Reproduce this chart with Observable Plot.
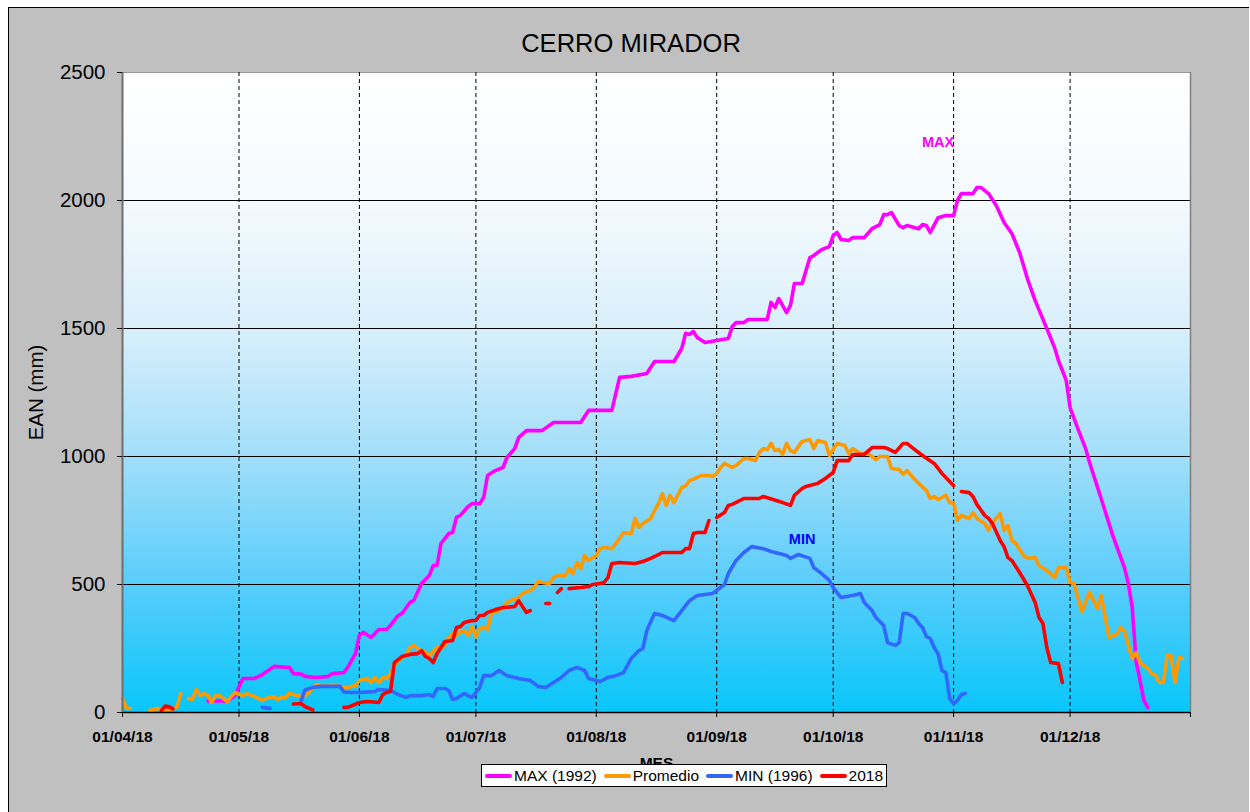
<!DOCTYPE html>
<html>
<head>
<meta charset="utf-8">
<script src="https://cdn.jsdelivr.net/npm/d3@7"></script>
<script src="https://cdn.jsdelivr.net/npm/@observablehq/plot@0.6"></script>
<style>
  html, body { margin: 0; padding: 0; }
  body { width: 1250px; height: 812px; overflow: hidden; position: relative; background: #ffffff;
         font-family: "Liberation Sans", Arial, sans-serif; }
  #bg { position: absolute; left: 8px; top: 7px; width: 1240px; height: 820px; background: #c0c0c0;
        border-top: 1px solid #000; border-left: 1px solid #000; }
  #title { position: absolute; left: 431px; top: 31px; width: 400px; text-align: center;
           font-size: 25.5px; line-height: 1; color: #000; }
  #chart { position: absolute; left: 0; top: 0; }
  #legend { position: absolute; left: 481px; top: 764px; width: 404px; height: 21px; background: #fff;
            border: 1px solid #000; display: flex; align-items: center; font-size: 15.5px; color: #000;
            white-space: nowrap; }
  .item { display: flex; align-items: center; margin-left: 3px; margin-right: 4px; }
  .sw { display: inline-block; width: 27px; height: 4px; border-radius: 2px; margin-right: 2px; }
</style>
</head>
<body>
<div id="bg"></div>
<div id="title"></div>
<div id="chart"></div>
<div id="legend"></div>
<script>
// ---------------- data ----------------
const chartTitle = "CERRO MIRADOR";
const yLabel = "EAN (mm)";
const xLabel = "MES";
const seriesNames = ["MAX (1992)", "Promedio", "MIN (1996)", "2018"];
const seriesColors = ["#ff00ff", "#ff9900", "#3366ff", "#ff0000"];
const yTicks = [0, 500, 1000, 1500, 2000, 2500];
const xTickDates = ["2018-04-01", "2018-05-01", "2018-06-01", "2018-07-01", "2018-08-01",
                    "2018-09-01", "2018-10-01", "2018-11-01", "2018-12-01"];
const xDomain = ["2018-04-01", "2019-01-01"];

// [MM-DD of 2018, EAN mm]; null = no data (line break)
const maxSeries = [["04-23",45],["04-28",45],["04-30",66],["05-02",133],["05-05",133],["05-07",148],["05-10",180],["05-14",176],["05-15",152],["05-17",150],["05-18",141],["05-21",137],["05-24",141],["05-25",152],["05-28",156],["05-29",176],["05-31",230],["06-01",301],["06-02",313],["06-04",293],["06-06",324],["06-08",324],["06-09",340],["06-11",379],["06-12",387],["06-14",430],["06-15",437],["06-17",504],["06-19",535],["06-20",574],["06-21",574],["06-22",660],["06-24",699],["06-25",703],["06-26",762],["06-27",770],["06-29",805],["06-30",816],["07-02",816],["07-03",840],["07-04",926],["07-06",945],["07-08",957],["07-09",996],["07-11",1031],["07-12",1074],["07-14",1101],["07-18",1101],["07-21",1133],["07-28",1133],["07-30",1180],["08-05",1180],["08-07",1309],["08-10",1313],["08-14",1324],["08-16",1371],["08-21",1371],["08-23",1422],["08-24",1481],["08-25",1477],["08-26",1488],["08-27",1465],["08-29",1445],["09-01",1453],["09-04",1461],["09-05",1508],["09-06",1523],["09-08",1523],["09-09",1535],["09-14",1535],["09-15",1602],["09-16",1582],["09-17",1617],["09-19",1562],["09-20",1590],["09-21",1676],["09-23",1676],["09-25",1777],["09-26",1785],["09-28",1808],["09-30",1820],["10-01",1863],["10-02",1875],["10-03",1848],["10-05",1844],["10-06",1855],["10-09",1855],["10-11",1890],["10-13",1906],["10-14",1945],["10-15",1945],["10-16",1953],["10-18",1902],["10-19",1894],["10-20",1902],["10-23",1890],["10-24",1906],["10-25",1902],["10-26",1875],["10-28",1933],["10-30",1941],["11-01",1941],["11-02",2000],["11-03",2027],["11-06",2027],["11-07",2051],["11-08",2051],["11-10",2027],["11-12",1980],["11-14",1914],["11-16",1871],["11-18",1797],["11-20",1695],["11-22",1609],["11-25",1500],["11-27",1426],["11-28",1375],["11-30",1297],["12-01",1191],["12-03",1109],["12-05",1031],["12-06",977],["12-09",836],["12-12",691],["12-15",566],["12-16",504],["12-17",410],["12-18",200],["12-19",125],["12-20",47],["12-21",20]];

const avgSeries = [["04-01",55],["04-02",16],["04-03",16],["04-05",null],["04-08",8],["04-10",16],["04-12",12],["04-14",14],["04-15",20],["04-16",74],["04-17",null],["04-18",55],["04-19",51],["04-20",90],["04-21",66],["04-22",74],["04-23",66],["04-24",40],["04-25",66],["04-26",66],["04-28",43],["04-29",62],["04-30",78],["05-02",66],["05-03",74],["05-05",62],["05-07",47],["05-08",55],["05-10",62],["05-11",51],["05-12",59],["05-13",59],["05-14",74],["05-15",70],["05-17",62],["05-18",66],["05-19",78],["05-21",109],["05-23",105],["05-25",109],["05-26",105],["05-28",98],["05-29",98],["05-31",105],["06-01",125],["06-03",133],["06-04",117],["06-05",137],["06-06",117],["06-07",137],["06-08",133],["06-09",152],["06-10",184],["06-11",200],["06-12",215],["06-13",223],["06-14",254],["06-15",262],["06-16",250],["06-17",242],["06-18",234],["06-19",223],["06-21",254],["06-22",250],["06-23",262],["06-24",293],["06-25",309],["06-26",301],["06-27",316],["06-28",320],["06-29",301],["06-30",335],["07-01",295],["07-02",328],["07-03",332],["07-04",325],["07-05",387],["07-07",398],["07-08",410],["07-09",430],["07-10",437],["07-12",449],["07-13",465],["07-15",477],["07-16",488],["07-17",512],["07-18",508],["07-20",504],["07-21",527],["07-22",535],["07-24",535],["07-25",562],["07-26",543],["07-27",586],["07-28",562],["07-29",613],["07-30",594],["08-01",613],["08-02",640],["08-03",645],["08-05",640],["08-06",660],["08-07",680],["08-08",703],["08-10",699],["08-11",758],["08-12",723],["08-13",738],["08-15",758],["08-16",789],["08-17",816],["08-18",855],["08-19",809],["08-20",848],["08-21",820],["08-23",879],["08-24",885],["08-25",906],["08-27",918],["08-28",926],["08-30",926],["08-31",922],["09-01",933],["09-02",957],["09-03",973],["09-05",957],["09-06",965],["09-08",992],["09-09",992],["09-11",984],["09-12",1016],["09-13",1031],["09-14",1027],["09-15",1051],["09-16",1023],["09-17",1027],["09-18",1008],["09-19",1051],["09-20",1023],["09-21",1016],["09-23",1059],["09-25",1066],["09-26",1031],["09-27",1062],["09-29",1055],["09-30",1004],["10-02",1051],["10-04",1043],["10-05",1012],["10-06",1031],["10-08",1012],["10-10",1012],["10-12",988],["10-13",1000],["10-15",1000],["10-16",953],["10-18",949],["10-19",930],["10-20",945],["10-22",910],["10-23",895],["10-25",867],["10-26",836],["10-27",844],["10-28",832],["10-30",848],["10-31",820],["11-01",820],["11-02",750],["11-03",770],["11-05",758],["11-06",781],["11-07",758],["11-09",738],["11-10",711],["11-11",742],["11-13",777],["11-14",711],["11-15",730],["11-16",672],["11-17",660],["11-19",613],["11-20",602],["11-22",605],["11-23",574],["11-25",555],["11-27",527],["11-28",566],["11-30",566],["12-01",508],["12-02",504],["12-04",395],["12-06",470],["12-08",406],["12-09",457],["12-11",293],["12-13",305],["12-14",332],["12-15",316],["12-17",211],["12-18",234],["12-19",195],["12-21",172],["12-22",152],["12-23",145],["12-24",117],["12-25",117],["12-26",223],["12-27",223],["12-28",117],["12-29",215],["12-30",211]];

const minSeries = [["05-07",20],["05-09",16],["05-12",null],["05-17",47],["05-18",88],["05-20",98],["05-22",102],["05-27",102],["05-28",80],["05-30",78],["06-01",78],["06-05",82],["06-06",90],["06-09",86],["06-11",70],["06-13",59],["06-14",66],["06-17",66],["06-19",70],["06-20",62],["06-21",94],["06-23",94],["06-24",86],["06-25",51],["06-26",55],["06-28",74],["06-29",66],["06-30",59],["07-01",78],["07-02",98],["07-03",144],["07-05",144],["07-07",164],["07-09",144],["07-12",133],["07-15",125],["07-17",102],["07-19",98],["07-21",117],["07-23",137],["07-25",164],["07-27",176],["07-29",164],["07-30",133],["08-02",121],["08-04",137],["08-06",144],["08-08",156],["08-10",211],["08-12",242],["08-13",250],["08-14",320],["08-16",387],["08-18",379],["08-21",359],["08-23",398],["08-25",437],["08-27",457],["08-31",465],["09-01",477],["09-03",500],["09-04",543],["09-06",594],["09-08",625],["09-10",648],["09-13",640],["09-15",629],["09-19",613],["09-20",602],["09-22",617],["09-25",602],["09-26",566],["09-28",543],["09-30",516],["10-01",488],["10-03",449],["10-06",457],["10-08",465],["10-09",430],["10-11",398],["10-12",371],["10-14",340],["10-15",273],["10-17",262],["10-18",273],["10-19",387],["10-20",387],["10-22",371],["10-23",348],["10-24",332],["10-25",297],["10-26",289],["10-27",254],["10-28",230],["10-29",164],["10-30",156],["10-31",55],["11-01",35],["11-02",47],["11-03",70],["11-04",74]];

const y2018Series = [["04-11",8],["04-12",25],["04-13",22],["04-14",14],["04-20",null],["05-15",33],["05-17",35],["05-18",23],["05-20",10],["05-24",null],["05-28",20],["05-29",20],["06-01",39],["06-03",43],["06-06",39],["06-07",70],["06-08",78],["06-09",82],["06-10",195],["06-12",219],["06-14",227],["06-16",230],["06-17",242],["06-18",219],["06-19",211],["06-20",195],["06-21",230],["06-22",254],["06-23",277],["06-25",281],["06-26",332],["06-27",336],["06-28",352],["06-30",359],["07-01",360],["07-02",379],["07-03",379],["07-04",391],["07-06",402],["07-08",410],["07-11",414],["07-12",437],["07-14",391],["07-15",398],["07-17",null],["07-19",426],["07-20",426],["07-21",null],["07-22",469],["07-23",484],["07-24",null],["07-25",484],["07-28",488],["07-30",492],["07-31",500],["08-02",504],["08-03",508],["08-04",527],["08-05",582],["08-07",586],["08-11",582],["08-13",590],["08-15",602],["08-17",617],["08-18",625],["08-23",625],["08-24",640],["08-25",640],["08-26",699],["08-27",703],["08-29",703],["08-30",750],["08-31",null],["09-01",762],["09-03",781],["09-04",809],["09-05",813],["09-08",836],["09-12",836],["09-13",844],["09-18",820],["09-20",809],["09-21",848],["09-23",875],["09-24",883],["09-27",895],["09-29",914],["10-01",938],["10-02",984],["10-05",984],["10-06",1008],["10-09",1008],["10-11",1035],["10-14",1035],["10-15",1031],["10-17",1016],["10-19",1051],["10-20",1051],["10-22",1027],["10-24",1004],["10-27",973],["10-29",934],["11-01",887],["11-02",null],["11-03",863],["11-05",859],["11-06",844],["11-07",813],["11-09",770],["11-10",758],["11-11",738],["11-13",672],["11-14",648],["11-15",605],["11-16",594],["11-18",547],["11-20",496],["11-22",430],["11-23",371],["11-24",348],["11-25",254],["11-26",195],["11-28",191],["11-29",117]];

// in-chart annotations: [text, MM-DD, EAN mm, colour]
const annotations = [["MAX", "10-28", 2227, "#ff00ff"], ["MIN", "09-23", 676, "#0000ff"]];

// ---------------- build ----------------
const parseISO = d3.utcParse("%Y-%m-%d");
const parseMD = s => parseISO("2018-" + s);
const toRows = s => s.map(([d, v]) => ({date: parseMD(d), value: v}));
const allSeries = [maxSeries, avgSeries, minSeries, y2018Series];

document.getElementById("title").textContent = chartTitle;

const fontFamily = "'Liberation Sans', Arial, Helvetica, sans-serif";
const xStart = parseISO(xDomain[0]), xEnd = parseISO(xDomain[1]);
const xTicks = xTickDates.map(parseISO);

const chart = Plot.plot({
  width: 1250,
  height: 812,
  marginLeft: 122,
  marginRight: 60,
  marginTop: 72,
  marginBottom: 100,
  style: {background: "transparent", fontFamily, color: "#000", overflow: "visible"},
  x: {type: "utc", domain: [xStart, xEnd]},
  y: {domain: [yTicks[0], yTicks[yTicks.length - 1]]},
  marks: [
    Plot.frame({fill: "url(#plotAreaGrad)", stroke: "none"}),
    Plot.ruleY(yTicks.slice(1, -1), {stroke: "#000", strokeWidth: 1}),
    Plot.ruleY(yTicks.slice(-1), {stroke: "#9a9a9a", strokeWidth: 1}),
    Plot.ruleX(xTicks.slice(1), {stroke: "#000", strokeWidth: 1, strokeDasharray: "4,3"}),
    Plot.ruleX([xEnd], {stroke: "#808080", strokeWidth: 1.5}),
    ...allSeries.map((s, i) => Plot.line(toRows(s), {
      x: "date", y: "value", stroke: seriesColors[i], strokeWidth: 3.6,
      strokeLinejoin: "round", strokeLinecap: "round"
    })),
    Plot.text(annotations, {
      x: d => parseMD(d[1]), y: d => d[2], text: d => d[0], fill: d => d[3],
      fontSize: 14.5, fontWeight: "bold"
    }),
    Plot.ruleY([0], {stroke: "#000", strokeWidth: 1.5}),
    Plot.ruleX([xStart], {stroke: "#6e6e6e", strokeWidth: 2}),
    Plot.axisY({
      ticks: yTicks, tickFormat: d => String(d), tickSize: 5, tickPadding: 12, fontSize: 20.5,
      label: yLabel, labelAnchor: "center", labelOffset: 94, labelArrow: "none"
    }),
    Plot.axisX({
      ticks: xTicks.concat([xEnd]), tickFormat: d => +d === +xEnd ? "" : d3.utcFormat("%d/%m/%y")(d),
      tickSize: 5, tickPadding: 13, fontSize: 15.5, fontWeight: "bold",
      label: xLabel, labelAnchor: "center", labelOffset: 55, labelArrow: "none"
    })
  ]
});

// gradient definition for the plot-area fill (white at top -> cyan at bottom)
const defs = d3.select(chart).insert("defs", ":first-child");
const grad = defs.append("linearGradient").attr("id", "plotAreaGrad")
  .attr("x1", 0).attr("y1", 0).attr("x2", 0).attr("y2", 1);
[[0, "#ffffff"], [0.2, "#f5fafe"], [0.4, "#d9effb"], [0.6, "#a2def9"], [0.8, "#58cdfb"], [1, "#08c6fa"]]
  .forEach(([o, c]) => grad.append("stop").attr("offset", o).attr("stop-color", c));

document.getElementById("chart").appendChild(chart);

// legend
const legend = d3.select("#legend");
seriesNames.forEach((n, i) => {
  const it = legend.append("div").attr("class", "item");
  it.append("span").attr("class", "sw").style("background", seriesColors[i]);
  it.append("span").text(n);
});
</script>
</body>
</html>
